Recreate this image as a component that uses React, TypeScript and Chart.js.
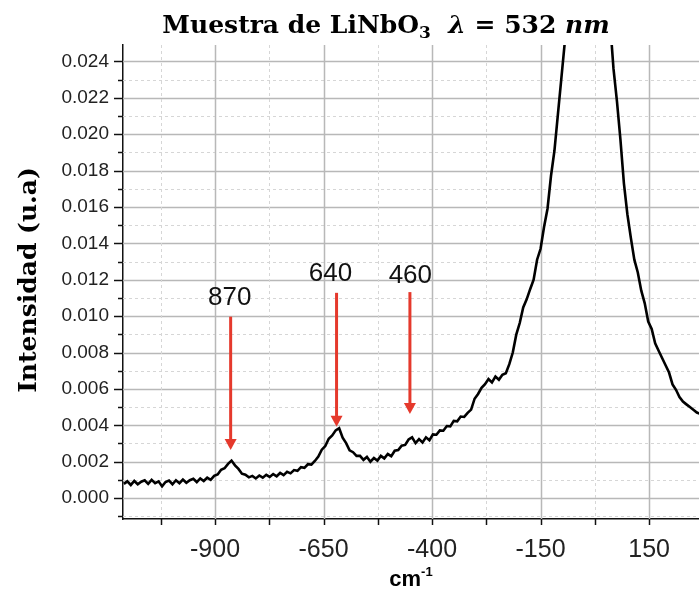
import React, { useEffect, useRef } from 'react';
import { Chart, registerables } from 'chart.js';

Chart.register(...registerables);

// Raman shift (axis units) and intensity values
const RAMAN_SHIFT = [
  -1110, -1102, -1094, -1086, -1078, -1070, -1062, -1054, -1046, -1038, -1030, -1022, -1014, -1006, -998, -990, -982, -974, -966, -958, -950, -942, -934, -926, -918,
  -910, -902, -894, -886, -878, -870, -862, -854, -846, -838, -830, -822, -814, -806,
  -798, -790, -782, -774, -766, -758, -750, -742, -734, -726, -718, -710, -702, -694, -686, -678, -670,
  -662, -654, -646, -638, -630, -622, -614, -606, -598, -590,
  -582, -574, -566, -558, -550, -542, -534, -526, -518, -510, -502, -494, -486, -478, -470,
  -462, -454, -446, -438, -430, -422, -414, -406, -398, -390, -382, -374, -366, -358, -350, -342, -334, -326, -318,
  -310, -302, -294, -286, -278, -270, -262, -254, -246, -238, -230, -222,
  -214, -206, -198, -190, -182, -174, -166, -158, -150, -142, -134, -126, -118, -110, -102, -94,
  -86, -78, -70, -62, -54, -46, -38, -30, -22, -14, -6, 2, 10,
  18, 26, 34, 42, 50, 58, 66, 74, 82, 90, 98, 106, 114, 122, 130, 138, 146, 154, 162, 170, 178, 186, 194, 202, 210, 218,
];

const INTENSITY = [
  0.00078, 0.00092, 0.00072, 0.00094, 0.00076, 0.00090, 0.00098, 0.00078, 0.00100, 0.00082, 0.00092, 0.00064, 0.00088, 0.00096, 0.00076, 0.00098, 0.00082, 0.00102, 0.00084, 0.00098, 0.00106, 0.00088, 0.00108, 0.00094, 0.00112,
  0.00100, 0.00122, 0.00130, 0.00156, 0.00164, 0.00188, 0.00206, 0.00180, 0.00160, 0.00134, 0.00128, 0.00114, 0.00122, 0.00108,
  0.00124, 0.00112, 0.00128, 0.00116, 0.00132, 0.00120, 0.00138, 0.00126, 0.00144, 0.00136, 0.00154, 0.00150, 0.00170, 0.00166, 0.00186, 0.00184, 0.00204,
  0.00228, 0.00266, 0.00286, 0.00326, 0.00344, 0.00372, 0.00384, 0.00332, 0.00302, 0.00262,
  0.00252, 0.00232, 0.00232, 0.00210, 0.00226, 0.00200, 0.00220, 0.00206, 0.00232, 0.00218, 0.00242, 0.00230, 0.00260, 0.00264, 0.00288,
  0.00292, 0.00322, 0.00334, 0.00302, 0.00324, 0.00306, 0.00334, 0.00318, 0.00350, 0.00348, 0.00372, 0.00370, 0.00396, 0.00394, 0.00424, 0.00422, 0.00448, 0.00446, 0.00468,
  0.00486, 0.00546, 0.00572, 0.00606, 0.00626, 0.00654, 0.00636, 0.00668, 0.00650, 0.00678, 0.00686, 0.00736,
  0.00800, 0.00898, 0.00962, 0.01048, 0.01092, 0.01148, 0.01200, 0.01310, 0.01370, 0.01490, 0.01590, 0.01770, 0.01910, 0.02110, 0.02310, 0.02510,
  0.02850, 0.03300, 0.03900, 0.04600, 0.05300, 0.05800, 0.06000, 0.05700, 0.05000, 0.04200, 0.03400, 0.03000, 0.02620,
  0.02360, 0.02180, 0.01970, 0.01730, 0.01560, 0.01430, 0.01310, 0.01240, 0.01140, 0.01070, 0.00970, 0.00930, 0.00850, 0.00810, 0.00770, 0.00730, 0.00690, 0.00625, 0.00595, 0.00555, 0.00530, 0.00515, 0.00500, 0.00485, 0.00470, 0.00462,
];

const X_MIN = -1112;
const X_MAX = 215;
const Y_MIN = -0.00115;
const Y_MAX = 0.0249;

const X_TICK_VALUES = [-1025, -900, -775, -650, -525, -400, -275, -150, -25, 100];
const X_TICK_LABELS = ['', '-900', '', '-650', '', '-400', '', '-150', '', '150'];

const Y_TICK_VALUES = [
  -0.001, 0, 0.001, 0.002, 0.003, 0.004, 0.005, 0.006, 0.007, 0.008, 0.009, 0.010, 0.011,
  0.012, 0.013, 0.014, 0.015, 0.016, 0.017, 0.018, 0.019, 0.020, 0.021, 0.022, 0.023, 0.024,
];
const Y_TICK_LABELS = [
  '', '0.000', '', '0.002', '', '0.004', '', '0.006', '', '0.008', '', '0.010', '',
  '0.012', '', '0.014', '', '0.016', '', '0.018', '', '0.020', '', '0.022', '', '0.024',
];

// Peak annotations (arrows + labels)
const PEAK_LABELS = ['870', '640', '460'];
const PEAK_X = [-864, -620, -451];
const ARROW_TOP = [0.00997, 0.01128, 0.01132];
const ARROW_TIP = [0.00264, 0.00392, 0.00462];
const LABEL_X = [-866, -634, -450];
const LABEL_Y = [0.0110, 0.0123, 0.0122];

const SANS = "'Liberation Sans', Arial, Helvetica, sans-serif";
const SERIF = "'DejaVu Serif', 'Liberation Serif', serif";
const RED = '#e5392c';

const gridPlugin = {
  id: 'customGrid',
  beforeDatasetsDraw(chart: any) {
    const { ctx, chartArea, scales } = chart;
    const { left, right, top, bottom } = chartArea;
    const xs = scales.x;
    const ys = scales.y;
    ctx.save();
    Y_TICK_VALUES.forEach((v, i) => {
      const major = Y_TICK_LABELS[i] !== '';
      const py = Math.round(ys.getPixelForValue(v)) + 0.5;
      if (py < top || py > bottom) return;
      ctx.beginPath();
      ctx.strokeStyle = major ? '#b8b8b8' : '#d6d6d6';
      ctx.lineWidth = major ? 1.5 : 1;
      ctx.setLineDash(major ? [] : [3, 3]);
      ctx.moveTo(left, py);
      ctx.lineTo(right, py);
      ctx.stroke();
    });
    X_TICK_VALUES.forEach((v, i) => {
      const major = X_TICK_LABELS[i] !== '';
      const px = Math.round(xs.getPixelForValue(v)) + 0.5;
      if (px < left || px > right) return;
      ctx.beginPath();
      ctx.strokeStyle = major ? '#b8b8b8' : '#d6d6d6';
      ctx.lineWidth = major ? 1.5 : 1;
      ctx.setLineDash(major ? [] : [3, 3]);
      ctx.moveTo(px, top);
      ctx.lineTo(px, bottom);
      ctx.stroke();
    });
    ctx.restore();
  },
};

const decorPlugin = {
  id: 'decor',
  afterDatasetsDraw(chart: any) {
    const { ctx, scales } = chart;
    const xs = scales.x;
    const ys = scales.y;
    ctx.save();
    PEAK_X.forEach((v, i) => {
      const px = xs.getPixelForValue(v);
      const y0 = ys.getPixelForValue(ARROW_TOP[i]);
      const y1 = ys.getPixelForValue(ARROW_TIP[i]);
      ctx.strokeStyle = RED;
      ctx.fillStyle = RED;
      ctx.lineWidth = 3;
      ctx.beginPath();
      ctx.moveTo(px, y0);
      ctx.lineTo(px, y1 - 9);
      ctx.stroke();
      ctx.beginPath();
      ctx.moveTo(px - 6, y1 - 11);
      ctx.lineTo(px + 6, y1 - 11);
      ctx.lineTo(px, y1);
      ctx.closePath();
      ctx.fill();
      ctx.fillStyle = '#111';
      ctx.font = `26px ${SANS}`;
      ctx.textAlign = 'center';
      ctx.textBaseline = 'middle';
      ctx.fillText(PEAK_LABELS[i], xs.getPixelForValue(LABEL_X[i]), ys.getPixelForValue(LABEL_Y[i]));
    });
    ctx.restore();
  },
  afterDraw(chart: any) {
    const { ctx, chartArea, scales } = chart;
    const { left, right, bottom } = chartArea;
    const xs = scales.x;
    const ys = scales.y;
    ctx.save();
    ctx.strokeStyle = '#111';
    ctx.lineWidth = 1.5;
    // tick marks
    Y_TICK_VALUES.forEach((v, i) => {
      const major = Y_TICK_LABELS[i] !== '';
      const py = Math.round(ys.getPixelForValue(v)) + 0.5;
      ctx.beginPath();
      ctx.moveTo(left - (major ? 9 : 5), py);
      ctx.lineTo(left, py);
      ctx.stroke();
    });
    X_TICK_VALUES.forEach((v) => {
      const px = Math.round(xs.getPixelForValue(v)) + 0.5;
      if (px > right) return;
      ctx.beginPath();
      ctx.moveTo(px, bottom);
      ctx.lineTo(px, bottom + 6);
      ctx.stroke();
    });

    ctx.fillStyle = '#000';
    ctx.textBaseline = 'alphabetic';
    ctx.textAlign = 'left';
    // main title
    const pieces = [
      { t: 'Muestra de LiNbO', f: `bold 25px ${SERIF}`, dy: 0 },
      { t: '3', f: `bold 17px ${SERIF}`, dy: 5 },
      { t: '  ', f: `bold 25px ${SERIF}`, dy: 0 },
      { t: 'λ', f: `italic bold 25px ${SERIF}`, dy: 0 },
      { t: ' = 532 ', f: `bold 25px ${SERIF}`, dy: 0 },
      { t: 'nm', f: `italic bold 25px ${SERIF}`, dy: 0 },
    ];
    let total = 0;
    pieces.forEach((p) => {
      ctx.font = p.f;
      total += ctx.measureText(p.t).width;
    });
    let cx = 386 - total / 2;
    pieces.forEach((p) => {
      ctx.font = p.f;
      ctx.fillText(p.t, cx, 33 + p.dy);
      cx += ctx.measureText(p.t).width;
    });

    // x axis title cm^-1
    const cxMid = (left + right) / 2;
    ctx.font = `bold 22px ${SANS}`;
    const wCm = ctx.measureText('cm').width;
    ctx.font = `bold 13px ${SANS}`;
    const wSup = ctx.measureText('-1').width;
    const sx = cxMid - (wCm + wSup) / 2;
    ctx.font = `bold 22px ${SANS}`;
    ctx.fillText('cm', sx, 586);
    ctx.font = `bold 13px ${SANS}`;
    ctx.fillText('-1', sx + wCm, 576);

    // y axis title
    ctx.save();
    ctx.translate(36, 280);
    ctx.rotate(-Math.PI / 2);
    ctx.textAlign = 'center';
    ctx.font = `bold 25px ${SERIF}`;
    ctx.fillText('Intensidad (u.a)', 0, 0);
    ctx.restore();

    ctx.restore();
  },
};

export default function App() {
  const canvasRef = useRef<HTMLCanvasElement | null>(null);

  useEffect(() => {
    if (!canvasRef.current) return;
    const points = RAMAN_SHIFT.map((x, i) => ({ x, y: INTENSITY[i] }));
    const chart = new Chart(canvasRef.current, {
      type: 'line',
      data: {
        datasets: [
          {
            data: points,
            borderColor: '#000',
            borderWidth: 2.6,
            pointRadius: 0,
            tension: 0,
            fill: false,
          },
        ],
      },
      options: {
        animation: false,
        responsive: false,
        devicePixelRatio: 1,
        events: [],
        layout: { padding: { top: 45, right: 0, left: 0, bottom: 0 } },
        plugins: {
          legend: { display: false },
          tooltip: { enabled: false },
          title: { display: false },
        },
        scales: {
          x: {
            type: 'linear',
            min: X_MIN,
            max: X_MAX,
            grid: { display: false, drawTicks: false },
            border: { display: true, color: '#111', width: 1.5 },
            afterBuildTicks: (scale: any) => {
              scale.ticks = X_TICK_VALUES.map((value) => ({ value }));
            },
            afterFit: (scale: any) => {
              scale.height = 72;
            },
            ticks: {
              autoSkip: false,
              maxRotation: 0,
              padding: 16,
              color: '#222',
              font: { family: SANS, size: 25 },
              callback: (_v: any, i: number) => X_TICK_LABELS[i],
            },
          },
          y: {
            type: 'linear',
            min: Y_MIN,
            max: Y_MAX,
            grid: { display: false, drawTicks: false },
            border: { display: true, color: '#111', width: 1.5 },
            afterBuildTicks: (scale: any) => {
              scale.ticks = Y_TICK_VALUES.map((value) => ({ value }));
            },
            afterFit: (scale: any) => {
              scale.width = 123;
            },
            ticks: {
              autoSkip: false,
              padding: 14,
              color: '#222',
              font: { family: SANS, size: 19 },
              callback: (_v: any, i: number) => Y_TICK_LABELS[i],
            },
          },
        },
      },
      plugins: [gridPlugin, decorPlugin],
    } as any);
    return () => chart.destroy();
  }, []);

  return (
    <div style={{ position: 'fixed', left: 0, top: 0, width: 699, height: 591, background: '#fff', overflow: 'hidden' }}>
      <canvas ref={canvasRef} width={699} height={591} style={{ display: 'block' }} />
    </div>
  );
}
